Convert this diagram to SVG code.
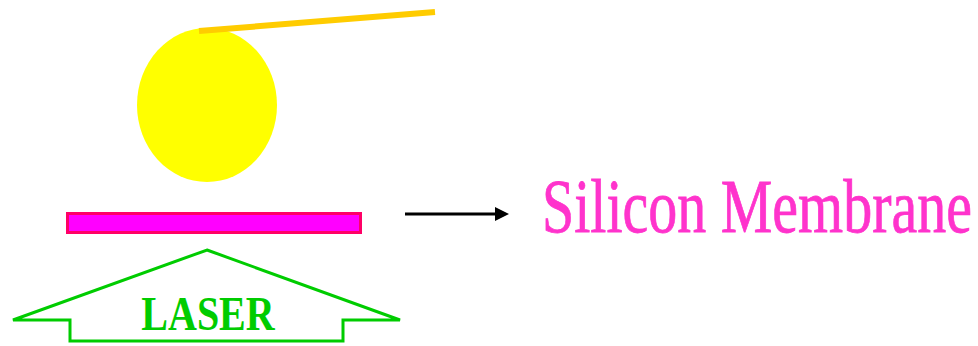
<svg xmlns="http://www.w3.org/2000/svg" width="978" height="346" viewBox="0 0 978 346">
<style>
.laser{fill:none;stroke:#00CC00;stroke-width:3;stroke-linejoin:miter}
.lt{font-family:'Liberation Serif','Times New Roman',serif;font-weight:bold;fill:#00CC00}
.st{font-family:'Liberation Serif','Times New Roman',serif;fill:#FF33CC;stroke:#FF33CC;stroke-width:0.6}
</style>
<rect width="978" height="346" fill="#FFFFFF"/>
<g id="ball">
<ellipse cx="207" cy="105" rx="70" ry="77" fill="#FFFF00"/>
</g>
<g id="cantilever">
<line x1="199" y1="31" x2="435" y2="12" stroke="#FFCC00" stroke-width="6"/>
</g>
<g id="membrane">
<rect x="67.5" y="213.5" width="293" height="19" fill="#FF00FF" stroke="#FF0066" stroke-width="3"/>
</g>
<g id="laser">
<polygon class="laser" points="207,250 400,320 343,320 343,341 70,341 70,320 13,320"/>
<text class="lt" transform="translate(208,330) scale(1,1.2)" text-anchor="middle" font-size="40">LASER</text>
</g>
<g id="connectors">
<line x1="405" y1="214" x2="497" y2="214" stroke="#000000" stroke-width="3"/>
<polygon points="495,207 509,214 495,221" fill="#000000"/>
</g>
<g id="label">
<text class="st" transform="translate(542,232) scale(1,1.3)" font-size="58">Silicon Membrane</text>
</g>
</svg>
